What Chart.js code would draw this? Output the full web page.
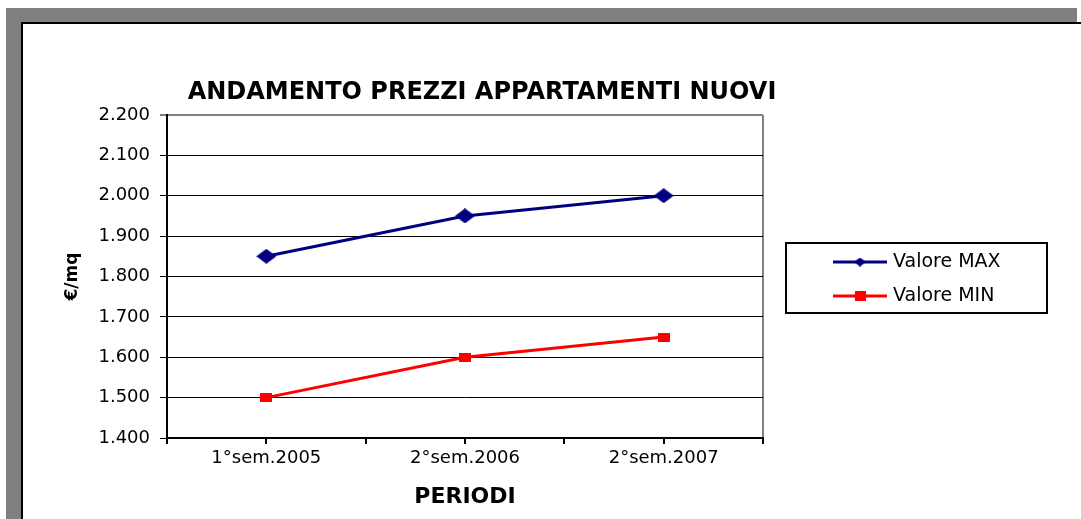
<!DOCTYPE html>
<html>
<head>
<meta charset="utf-8">
<script src="https://cdn.jsdelivr.net/npm/chart.js@4/dist/chart.umd.min.js"></script>
<style>
  html, body { margin: 0; padding: 0; background: #fff; }
  canvas { display: block; }
</style>
</head>
<body>
<canvas id="grafico" width="1081" height="519"></canvas>
<script>
// dati del grafico
const periodi = ["1°sem.2005", "2°sem.2006", "2°sem.2007"];
const valoriMax = [1850, 1950, 2000];
const valoriMin = [1500, 1600, 1650];
const nomiSerie = ["Valore MAX", "Valore MIN"];
const titolo = "ANDAMENTO PREZZI APPARTAMENTI NUOVI";
const titoloY = "€/mq";
const titoloX = "PERIODI";

const FONT = "'DejaVu Sans', sans-serif";
Chart.defaults.font.family = FONT;
Chart.defaults.color = "#000";

// marker disegnati su piccoli canvas (rombo largo, quadrato)
function marker(w, h, color, tipo) {
  const c = document.createElement("canvas");
  c.width = w;
  c.height = h;
  const g = c.getContext("2d");
  g.fillStyle = color;
  if (tipo === "rombo") {
    g.beginPath();
    g.moveTo(w / 2, 0);
    g.lineTo(w, h / 2);
    g.lineTo(w / 2, h);
    g.lineTo(0, h / 2);
    g.closePath();
    g.fill();
  } else {
    g.fillRect(0, 0, w, h);
  }
  return c;
}

const formatta = (v) => String(v).replace(/\B(?=(\d{3})+(?!\d))/g, ".");

// cornice grigia, titolo e legenda
const decorazioni = {
  id: "decorazioni",
  beforeDraw(chart) {
    const ctx = chart.ctx;
    ctx.save();
    ctx.fillStyle = "#fff";
    ctx.fillRect(0, 0, chart.width, chart.height);
    ctx.fillStyle = "#808080";
    ctx.fillRect(6, 8, 1071, 14);
    ctx.fillRect(6, 8, 15, chart.height - 8);
    ctx.fillStyle = "#000";
    ctx.fillRect(21, 22, chart.width - 21, 2);
    ctx.fillRect(21, 22, 2, chart.height - 22);
    ctx.restore();
  },
  afterDraw(chart) {
    const ctx = chart.ctx;
    ctx.save();
    ctx.fillStyle = "#000";
    ctx.font = "bold 24px " + FONT;
    ctx.textAlign = "center";
    ctx.textBaseline = "middle";
    ctx.fillText(titolo, 482, 93);

    // legenda
    ctx.lineWidth = 2;
    ctx.strokeStyle = "#000";
    ctx.strokeRect(786, 243, 261, 70);
    chart.data.datasets.forEach((ds, i) => {
      const y = 262 + i * 34;
      ctx.strokeStyle = ds.borderColor;
      ctx.lineWidth = 3;
      ctx.beginPath();
      ctx.moveTo(833, y);
      ctx.lineTo(887, y);
      ctx.stroke();
      const m = i === 0 ? marker(12, 9, ds.borderColor, "rombo") : marker(11, 10, ds.borderColor, "quadrato");
      ctx.drawImage(m, 860 - m.width / 2, y - m.height / 2);
      ctx.fillStyle = "#000";
      ctx.font = "19px " + FONT;
      ctx.textAlign = "left";
      ctx.textBaseline = "middle";
      ctx.fillText(ds.label, 893, y);
    });
    ctx.restore();
  },
};

new Chart(document.getElementById("grafico").getContext("2d"), {
  type: "line",
  data: {
    datasets: [
      {
        label: nomiSerie[0],
        data: valoriMax.map((v, i) => ({ x: i, y: v })),
        borderColor: "#000080",
        backgroundColor: "#000080",
        borderWidth: 3,
        pointStyle: marker(20, 15, "#000080", "rombo"),
        tension: 0,
      },
      {
        label: nomiSerie[1],
        data: valoriMin.map((v, i) => ({ x: i, y: v })),
        borderColor: "#FF0000",
        backgroundColor: "#FF0000",
        borderWidth: 3,
        pointStyle: marker(12, 9, "#FF0000", "quadrato"),
        tension: 0,
      },
    ],
  },
  options: {
    responsive: false,
    animation: false,
    devicePixelRatio: 1,
    layout: { padding: { left: 0, top: 115, right: 318, bottom: 0 } },
    plugins: {
      legend: { display: false },
      tooltip: { enabled: false },
      title: { display: false },
    },
    scales: {
      x: {
        type: "linear",
        min: -0.5,
        max: 2.5,
        afterFit: (s) => { s.height = 81; },
        ticks: {
          stepSize: 0.5,
          autoSkip: false,
          maxRotation: 0,
          minRotation: 0,
          padding: 4,
          font: { size: 18 },
          callback: (v) => (Number.isInteger(v) ? periodi[v] : ""),
        },
        grid: {
          drawOnChartArea: true,
          color: (c) => (c.tick && c.tick.value === 2.5 ? "#808080" : "rgba(0,0,0,0)"),
          lineWidth: 2,
          tickColor: "#000",
          tickLength: 6,
          tickWidth: 2,
        },
        border: { color: "#000", width: 2 },
        title: {
          display: true,
          text: titoloX,
          font: { size: 22, weight: "bold" },
          padding: { top: 0, bottom: 9 },
        },
      },
      y: {
        min: 1400,
        max: 2200,
        afterFit: (s) => { s.width = 167; },
        ticks: {
          stepSize: 100,
          padding: 10,
          font: { size: 18 },
          callback: (v) => formatta(v),
        },
        grid: {
          color: (c) => (c.tick && c.tick.value === 2200 ? "#808080" : "#000"),
          lineWidth: (c) => (c.tick && c.tick.value === 2200 ? 2 : 1),
          tickColor: "#000",
          tickLength: 7,
          tickWidth: 1,
        },
        border: { color: "#000", width: 2 },
        title: {
          display: true,
          text: titoloY,
          font: { size: 17, weight: "bold" },
          padding: { top: 62, bottom: 0 },
        },
      },
    },
  },
  plugins: [decorazioni],
});
</script>
</body>
</html>
